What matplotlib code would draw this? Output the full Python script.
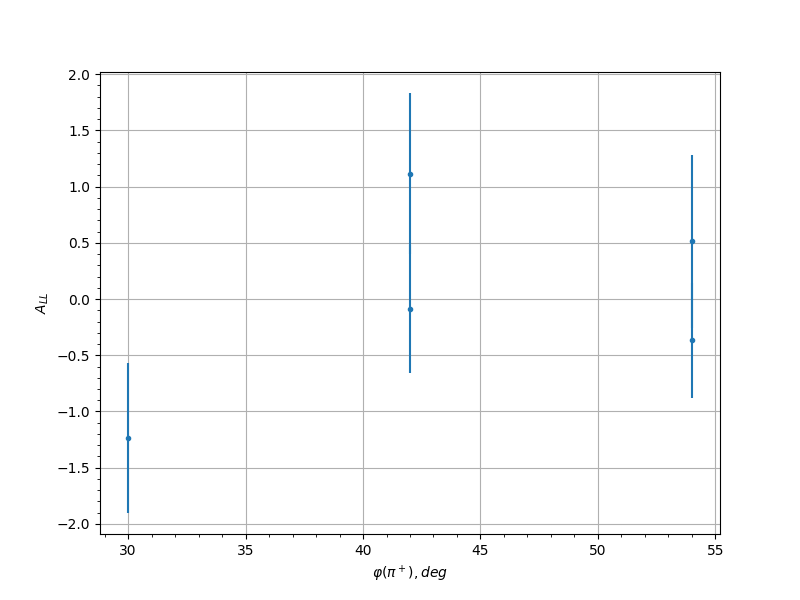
import numpy as np
import matplotlib
matplotlib.use("Agg")
import matplotlib.pyplot as plt

# azimuthal angle of pi+ (deg), asymmetry A_LL and its error
phi = [30, 42, 42, 54, 54]
a_ll = [-1.236, 1.117, -0.092, 0.516, -0.367]
a_err = [0.667, 0.714, 0.57, 0.77, 0.51]

fig, ax = plt.subplots(figsize=(8, 6), dpi=100)
ax.errorbar(phi, a_ll, yerr=a_err, fmt=".")
ax.set_ylim(-2.09, 2.02)
ax.set_xlabel(r"$\varphi(\pi^+), deg$")
ax.set_ylabel(r"$A_{LL}$")
ax.minorticks_on()
ax.grid(which="major")
fig.savefig("out.png")
